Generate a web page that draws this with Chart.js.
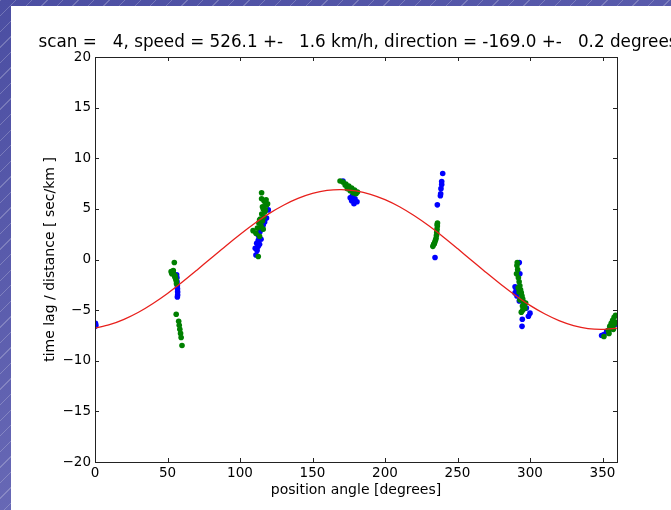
<!DOCTYPE html>
<html>
<head>
<meta charset="utf-8">
<script src="https://cdn.jsdelivr.net/npm/chart.js@4.4.0/dist/chart.umd.min.js"></script>
<style>
  body {
    margin: 0; width: 671px; height: 510px; overflow: hidden; position: relative;
    background:
      repeating-linear-gradient(135deg, rgba(255,255,255,0.22) 0 1px, rgba(255,255,255,0) 1px 11px),
      linear-gradient(160deg, #4b4ea2, #7474be);
  }
  #paper { position: absolute; left: 11px; top: 6px; right: 0; bottom: 0; background: #fff; }
  canvas { position: absolute; left: 0; top: 0; }
</style>
</head>
<body>
<div id="paper"></div>
<canvas id="myChart" width="671" height="510"></canvas>
<script>
// axes
const xTicks = [0, 50, 100, 150, 200, 250, 300, 350];
const yTicks = [-20, -15, -10, -5, 0, 5, 10, 15, 20];

// fitted curve
const fitAngle = [0, 10, 20, 30, 40, 50, 60, 70, 80, 90, 100, 110, 120, 130, 140, 150, 160, 170, 180,
  190, 200, 210, 220, 230, 240, 250, 260, 270, 280, 290, 300, 310, 320, 330, 340, 350, 360];
const fitLag = [-6.77, -6.44, -5.91, -5.21, -4.34, -3.35, -2.25, -1.08, 0.12, 1.32, 2.47, 3.55, 4.53, 5.36, 6.03, 6.52, 6.82, 6.90, 6.77,
  6.44, 5.91, 5.21, 4.34, 3.35, 2.25, 1.08, -0.12, -1.32, -2.47, -3.55, -4.53, -5.36, -6.03, -6.52, -6.82, -6.90, -6.77];

// blue points
const blueAngle = [0.3, 0.6, 0.2,
  56.3, 56.5, 56.6, 56.8, 56.9, 57.0, 57.0, 56.8,
  119.5, 118.3, 117.0, 116.0, 114.5, 113.8, 113.0, 112.6, 111.5, 112.6, 111.8, 111.0, 113.5, 114.5, 110.5, 112.0,
  171.0, 176.0, 177.0, 178.6, 179.3, 180.7, 177.5,
  239.8, 239.1, 239.1, 238.6, 238.4, 238.2, 236.1, 234.5,
  292.6, 293.0, 289.7, 289.7, 292.6, 300.0, 298.9, 294.7, 294.5, 297.5, 291.0, 290.5,
  349.4, 351.0, 352.9, 355.0, 357.0, 359.0];
const blueLag = [-6.3, -6.5, -6.6,
  -1.5, -1.8, -2.2, -2.6, -2.9, -3.2, -3.5, -3.7,
  4.9, 4.1, 3.7, 3.4, 3.0, 2.75, 2.3, 1.9, 1.6, 1.3, 0.9, 0.45, 1.5, 2.0, 1.1, 2.5,
  7.75, 6.1, 5.8, 5.5, 6.0, 5.7, 6.3,
  8.5, 7.7, 7.4, 7.0, 6.5, 6.3, 5.4, 0.2,
  -0.3, -1.4, -2.7, -3.3, -4.1, -5.3, -5.6, -5.9, -6.6, -4.8, -3.6, -3.0,
  -7.5, -7.4, -7.1, -6.9, -6.6, -6.4];

// green points
const greenAngle = [52.5, 53.0, 53.8, 54.5, 55.0, 55.6, 56.0, 56.2, 54.7, 56.0, 57.7, 58.1, 58.5, 59.0, 59.4, 60.0, 54.0, 55.3,
  114.9, 114.9, 116.5, 117.5, 118.5, 115.5, 116.0, 117.0, 115.0, 116.5, 114.0, 115.5, 113.0, 114.5, 112.0, 109.0, 111.0, 113.5, 112.6, 116.0, 117.5, 118.0, 119.0, 113.5,
  169.0, 171.0, 173.0, 175.0, 177.0, 179.0, 181.0, 176.0, 178.0, 180.0, 172.5, 174.0,
  236.2, 236.1, 235.9, 235.7, 235.5, 235.2, 234.8, 234.3, 233.6, 233.0, 234.0, 236.0,
  291.2, 290.7, 291.0, 291.5, 292.0, 292.5, 293.0, 293.5, 294.0, 294.5, 295.0, 295.5, 296.0, 296.5, 295.0, 294.0, 297.0, 292.5, 293.0, 291.8, 294.8,
  351.0, 354.0, 355.0, 356.0, 357.0, 358.0, 359.0, 356.5, 358.0, 359.5, 354.5, 357.5];
const greenLag = [-1.2, -1.4, -1.3, -1.5, -1.7, -1.9, -2.1, -2.4, -0.3, -5.4, -6.1, -6.5, -6.9, -7.3, -7.7, -8.5, -1.1, -1.6,
  6.6, 6.0, 5.8, 5.6, 5.4, 5.2, 5.0, 4.7, 4.5, 4.2, 4.0, 3.8, 3.6, 3.3, 3.1, 2.85, 2.6, 2.3, 0.3, 3.0, 4.9, 5.9, 5.5, 3.9,
  7.75, 7.65, 7.45, 7.26, 7.06, 6.86, 6.67, 6.8, 6.6, 6.5, 7.35, 7.0,
  3.6, 3.3, 3.0, 2.7, 2.4, 2.1, 1.9, 1.7, 1.5, 1.3, 1.55, 3.45,
  -0.3, -1.4, -0.6, -1.0, -1.8, -2.2, -2.6, -3.0, -3.3, -3.6, -3.9, -4.2, -4.5, -4.8, -5.0, -5.2, -4.3, -3.2, -4.0, -2.8, -4.6,
  -7.6, -7.0, -6.6, -6.3, -6.0, -5.7, -5.5, -6.8, -6.4, -6.2, -7.3, -6.9];

const titleText = 'scan =   4, speed = 526.1 +-   1.6 km/h, direction = -169.0 +-   0.2 degrees';

function pts(xs, ys) {
    return xs.map((x, i) => ({ x: x, y: ys[i] }));
}
function fmt(v) {
    return v < 0 ? '\u2212' + Math.abs(v) : String(v);
}

// matplotlib style frame, inward ticks and the title
const framePlugin = {
    id: 'frame',
    afterDraw(chart) {
        const ctx = chart.ctx;
        const a = chart.chartArea;
        const sx = chart.scales.x, sy = chart.scales.y;
        ctx.save();
        ctx.strokeStyle = '#222';
        ctx.lineWidth = 1;
        ctx.strokeRect(Math.round(a.left) + 0.5, Math.round(a.top) + 0.5,
            Math.round(a.right - a.left), Math.round(a.bottom - a.top));
        ctx.beginPath();
        xTicks.forEach(v => {
            const px = Math.round(sx.getPixelForValue(v)) + 0.5;
            ctx.moveTo(px, a.bottom); ctx.lineTo(px, a.bottom - 4);
            ctx.moveTo(px, a.top); ctx.lineTo(px, a.top + 4);
        });
        yTicks.forEach(v => {
            const py = Math.round(sy.getPixelForValue(v)) + 0.5;
            ctx.moveTo(a.left, py); ctx.lineTo(a.left + 4, py);
            ctx.moveTo(a.right, py); ctx.lineTo(a.right - 4, py);
        });
        ctx.stroke();
        ctx.fillStyle = '#000';
        ctx.font = '16.8px "DejaVu Sans"';
        ctx.textAlign = 'center';
        ctx.textBaseline = 'middle';
        ctx.fillText(titleText, (a.left + a.right) / 2 + 2, 43);
        ctx.restore();
    }
};

const tickFont = { family: 'DejaVu Sans', size: 13.5 };
const labelFont = { family: 'DejaVu Sans', size: 14 };

var ctx = document.getElementById('myChart').getContext('2d');
var myChart = new Chart(ctx, {
    type: 'scatter',
    data: {
        datasets: [{
            type: 'line',
            data: pts(fitAngle, fitLag),
            borderColor: '#e8201c',
            borderWidth: 1.3,
            pointRadius: 0,
            tension: 0.3,
            order: 0
        }, {
            data: pts(greenAngle, greenLag),
            backgroundColor: '#008000',
            borderWidth: 0,
            pointRadius: 2.8,
            order: 1
        }, {
            data: pts(blueAngle, blueLag),
            backgroundColor: '#0000ff',
            borderWidth: 0,
            pointRadius: 2.8,
            order: 2
        }]
    },
    options: {
        responsive: false,
        animation: false,
        devicePixelRatio: 1,
        layout: { padding: { top: 57, right: 54, left: 0, bottom: 0 } },
        plugins: {
            legend: { display: false },
            tooltip: { enabled: false },
            title: { display: false }
        },
        scales: {
            x: {
                type: 'linear',
                min: 0,
                max: 360,
                afterBuildTicks: s => { s.ticks = xTicks.map(v => ({ value: v })); },
                afterFit: s => { s.height = 48; },
                grid: { display: false, drawTicks: false },
                border: { display: false },
                ticks: { padding: 3, color: '#000', font: tickFont, maxRotation: 0, autoSkip: false, callback: v => fmt(v) },
                title: { display: true, text: 'position angle [degrees]', color: '#000', font: labelFont, padding: { top: 0, bottom: 11.6 } }
            },
            y: {
                type: 'linear',
                min: -20,
                max: 20,
                afterBuildTicks: s => { s.ticks = yTicks.map(v => ({ value: v })); },
                afterFit: s => { s.width = 95; },
                grid: { display: false, drawTicks: false },
                border: { display: false },
                ticks: { padding: 4, color: '#000', font: tickFont, autoSkip: false, callback: v => fmt(v) },
                title: { display: true, text: 'time lag / distance [ sec/km ]', color: '#000', font: labelFont, padding: { top: 41.6, bottom: 0 } }
            }
        }
    },
    plugins: [framePlugin]
});
</script>
</body>
</html>
